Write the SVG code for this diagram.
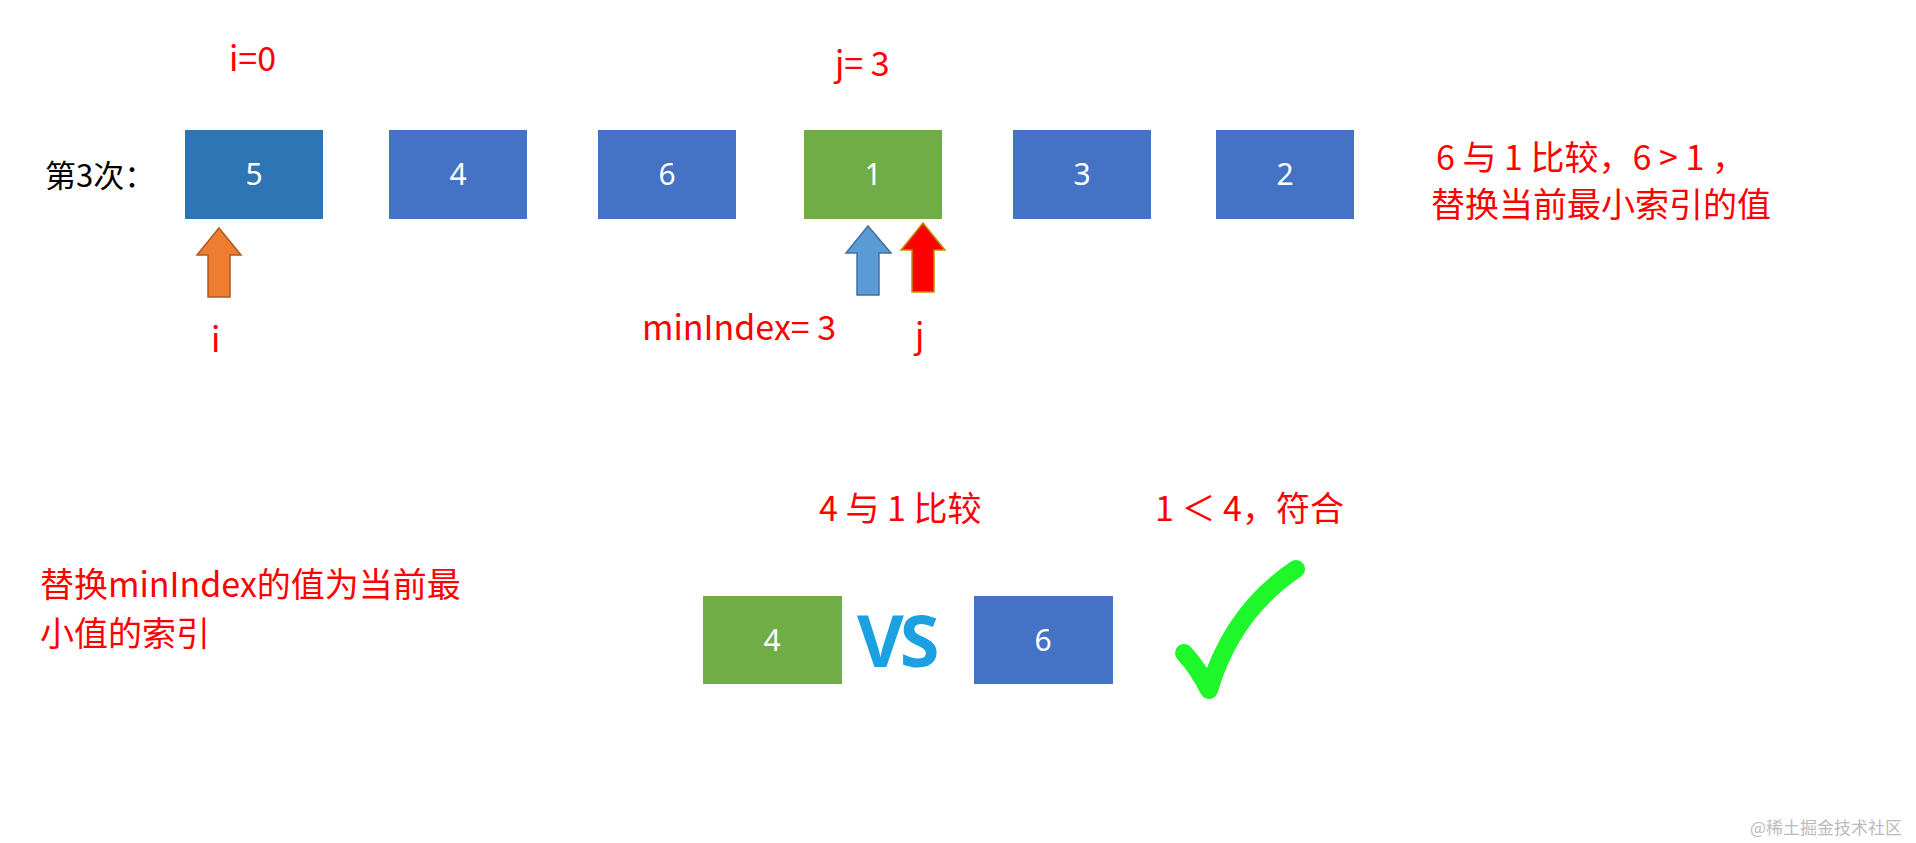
<svg xmlns="http://www.w3.org/2000/svg" width="1916" height="843" viewBox="0 0 1916 843">
<style>
.t{font-family:"Noto Sans CJK SC","Noto Sans",sans-serif;fill:#FF0000;font-size:34px}
.n{font-family:"Noto Sans","Noto Sans CJK SC",sans-serif;fill:#fff;font-size:30px;text-anchor:middle}
.b{fill:#4472C4}
.g{fill:#70AD47}
</style>
<rect width="1916" height="843" fill="#fff"/>
<text x="45" y="187" font-family="Noto Sans CJK SC,sans-serif" font-size="31" fill="#000">第3次：</text>
<g id="n0"><rect x="185" y="130" width="138" height="89" fill="#2E75B6"/><text class="n" x="254" y="185">5</text></g>
<g id="n1"><rect class="b" x="389" y="130" width="138" height="89"/><text class="n" x="458" y="185">4</text></g>
<g id="n2"><rect class="b" x="598" y="130" width="138" height="89"/><text class="n" x="667" y="185">6</text></g>
<g id="n3"><rect class="g" x="804" y="130" width="138" height="89"/><text class="n" x="873" y="185">1</text></g>
<g id="n4"><rect class="b" x="1013" y="130" width="138" height="89"/><text class="n" x="1082" y="185">3</text></g>
<g id="n5"><rect class="b" x="1216" y="130" width="138" height="89"/><text class="n" x="1285" y="185">2</text></g>
<g id="arrows" stroke-width="1.5">
<path d="M219,228 L241,255 L230,255 L230,297 L208,297 L208,255 L197,255 Z" fill="#ED7D31" stroke="#AE5A21"/>
<path d="M868,226 L891,253 L879,253 L879,295 L857,295 L857,253 L846,253 Z" fill="#5B9BD5" stroke="#41719C"/>
<path d="M923,223 L945,250 L934,250 L934,292 L912,292 L912,250 L901,250 Z" fill="#FF0000" stroke="#C09000"/>
</g>
<text class="t" x="229" y="71">i=0</text>
<text class="t" x="835" y="76">j= 3</text>
<text class="t" x="211" y="352">i</text>
<text class="t" x="642" y="340">minIndex= 3</text>
<text class="t" x="915" y="348">j</text>
<text class="t" x="1436" y="170">6 与 1 比较，6 &gt; 1 ，</text>
<text class="t" x="1431" y="217">替换当前最小索引的值</text>
<text class="t" x="819" y="521">4 与 1 比较</text>
<text class="t" x="1155" y="521">1 ＜ 4，符合</text>
<text class="t" x="40" y="597" font-size="35">替换minIndex的值为当前最</text>
<text class="t" x="40" y="646" font-size="35">小值的索引</text>
<g id="b0"><rect class="g" x="703" y="596" width="139" height="88"/><text class="n" x="772" y="651">4</text></g>
<g id="b1"><rect class="b" x="974" y="596" width="139" height="88"/><text class="n" x="1043" y="651">6</text></g>
<text x="857" y="667" font-family="Open Sans,sans-serif" font-weight="bold" font-size="72" fill="#1BA1E2" letter-spacing="-4">VS</text>
<path d="M1184,653 Q1198,668 1209,690 Q1232,612 1296,569" fill="none" stroke="#1EF72A" stroke-width="18" stroke-linecap="round" stroke-linejoin="round"/>
<text x="1750" y="834" font-family="Noto Sans CJK SC,sans-serif" font-size="17" fill="#bbb">@稀土掘金技术社区</text>
</svg>
